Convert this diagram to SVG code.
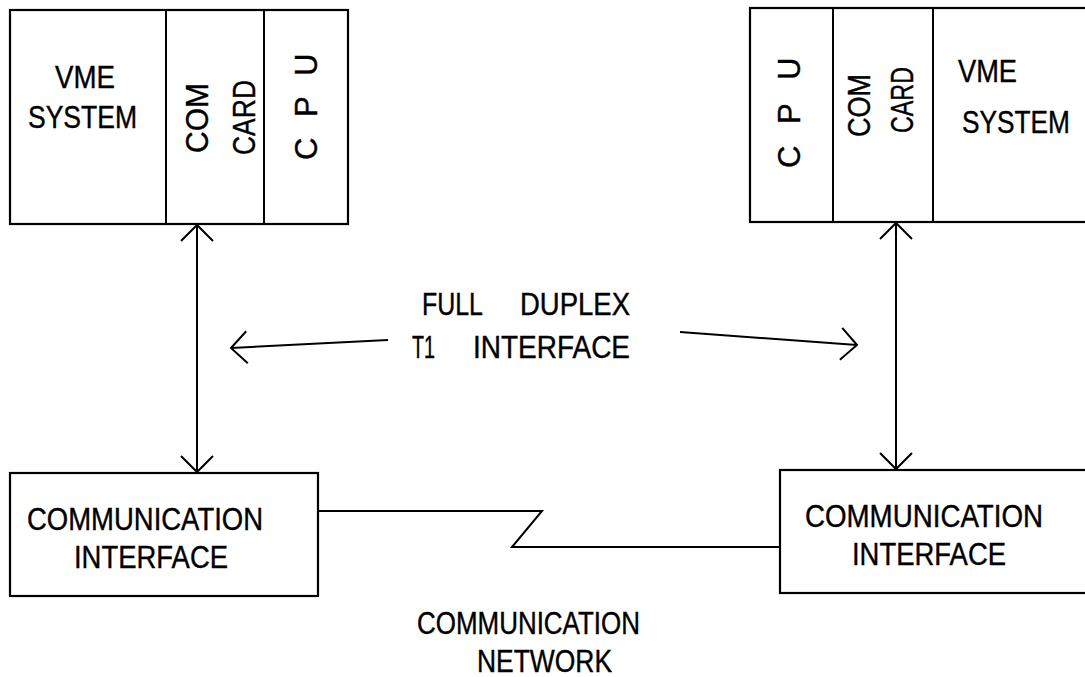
<svg xmlns="http://www.w3.org/2000/svg" width="1085" height="677" viewBox="0 0 1085 677">
  <style>
    .box { fill: #fff; stroke: #000; stroke-width: 2.2; }
    .div { stroke: #000; stroke-width: 2; }
    .wire { fill: none; stroke: #000; stroke-width: 2; }
    .lbl { font-family: "Liberation Sans", Arial, sans-serif; font-size: 31px; fill: #000; stroke: #000; stroke-width: 0.4; }
  </style>
  <defs>
    <marker id="head" viewBox="-20 -20 24 40" refX="0" refY="0" markerWidth="24" markerHeight="40" markerUnits="userSpaceOnUse" orient="auto-start-reverse">
      <path d="M-16,-16 L0,0 L-16,16" fill="none" stroke="#000" stroke-width="2"/>
    </marker>
  </defs>
  <rect width="1085" height="677" fill="#fff"/>

  <!-- left VME rack -->
  <g id="vme-left">
    <rect class="box" x="10" y="10" width="338" height="214"/>
    <line class="div" x1="166" y1="10" x2="166" y2="224"/>
    <line class="div" x1="264" y1="10" x2="264" y2="224"/>
    <text class="lbl" x="55" y="88" textLength="60" lengthAdjust="spacingAndGlyphs">VME</text>
    <text class="lbl" x="28" y="128" textLength="109" lengthAdjust="spacingAndGlyphs">SYSTEM</text>
    <text class="lbl" transform="translate(208,153) rotate(-90)" textLength="70" lengthAdjust="spacingAndGlyphs">COM</text>
    <text class="lbl" transform="translate(255,155) rotate(-90)" textLength="75" lengthAdjust="spacingAndGlyphs">CARD</text>
    <text class="lbl" transform="translate(317,160) rotate(-90)"><tspan x="0">C</tspan><tspan x="43">P</tspan><tspan x="84">U</tspan></text>
  </g>

  <!-- right VME rack (runs past the right edge) -->
  <g id="vme-right">
    <rect class="box" x="750" y="8" width="345" height="214"/>
    <line class="div" x1="833" y1="8" x2="833" y2="222"/>
    <line class="div" x1="933" y1="8" x2="933" y2="222"/>
    <text class="lbl" x="958" y="82" textLength="59" lengthAdjust="spacingAndGlyphs">VME</text>
    <text class="lbl" x="962" y="133" textLength="108" lengthAdjust="spacingAndGlyphs">SYSTEM</text>
    <text class="lbl" transform="translate(870,137) rotate(-90)" textLength="63" lengthAdjust="spacingAndGlyphs">COM</text>
    <text class="lbl" transform="translate(913,133) rotate(-90)" textLength="66" lengthAdjust="spacingAndGlyphs">CARD</text>
    <text class="lbl" transform="translate(800,168) rotate(-90)"><tspan x="0">C</tspan><tspan x="44">P</tspan><tspan x="88">U</tspan></text>
  </g>

  <!-- left communication interface -->
  <g id="ci-left">
    <rect class="box" x="10" y="473" width="308" height="123"/>
    <text class="lbl" x="27" y="530" textLength="236" lengthAdjust="spacingAndGlyphs">COMMUNICATION</text>
    <text class="lbl" x="74" y="568" textLength="154" lengthAdjust="spacingAndGlyphs">INTERFACE</text>
  </g>

  <!-- right communication interface (runs past the right edge) -->
  <g id="ci-right">
    <rect class="box" x="780" y="470" width="315" height="123"/>
    <text class="lbl" x="805" y="527" textLength="238" lengthAdjust="spacingAndGlyphs">COMMUNICATION</text>
    <text class="lbl" x="852" y="565" textLength="154" lengthAdjust="spacingAndGlyphs">INTERFACE</text>
  </g>

  <!-- link labels -->
  <g id="t1-label">
    <text class="lbl" x="422" y="315" textLength="61" lengthAdjust="spacingAndGlyphs">FULL</text>
    <text class="lbl" x="520" y="315" textLength="110" lengthAdjust="spacingAndGlyphs">DUPLEX</text>
    <text class="lbl" x="412" y="358" textLength="23" lengthAdjust="spacingAndGlyphs">T1</text>
    <text class="lbl" x="473" y="358" textLength="157" lengthAdjust="spacingAndGlyphs">INTERFACE</text>
  </g>
  <g id="network-label">
    <text class="lbl" x="417" y="634" textLength="223" lengthAdjust="spacingAndGlyphs">COMMUNICATION</text>
    <text class="lbl" x="477" y="672" textLength="135" lengthAdjust="spacingAndGlyphs">NETWORK</text>
  </g>

  <!-- connectors -->
  <g id="connectors">
    <line class="wire" x1="197" y1="225" x2="197" y2="472" marker-start="url(#head)" marker-end="url(#head)"/>
    <line class="wire" x1="896" y1="223" x2="896" y2="469" marker-start="url(#head)" marker-end="url(#head)"/>
    <line class="wire" x1="388" y1="340" x2="231" y2="348" marker-end="url(#head)"/>
    <line class="wire" x1="680" y1="332" x2="857" y2="345" marker-end="url(#head)"/>
    <polyline class="wire" points="318,511 542,511 512,547 780,547"/>
  </g>
</svg>
